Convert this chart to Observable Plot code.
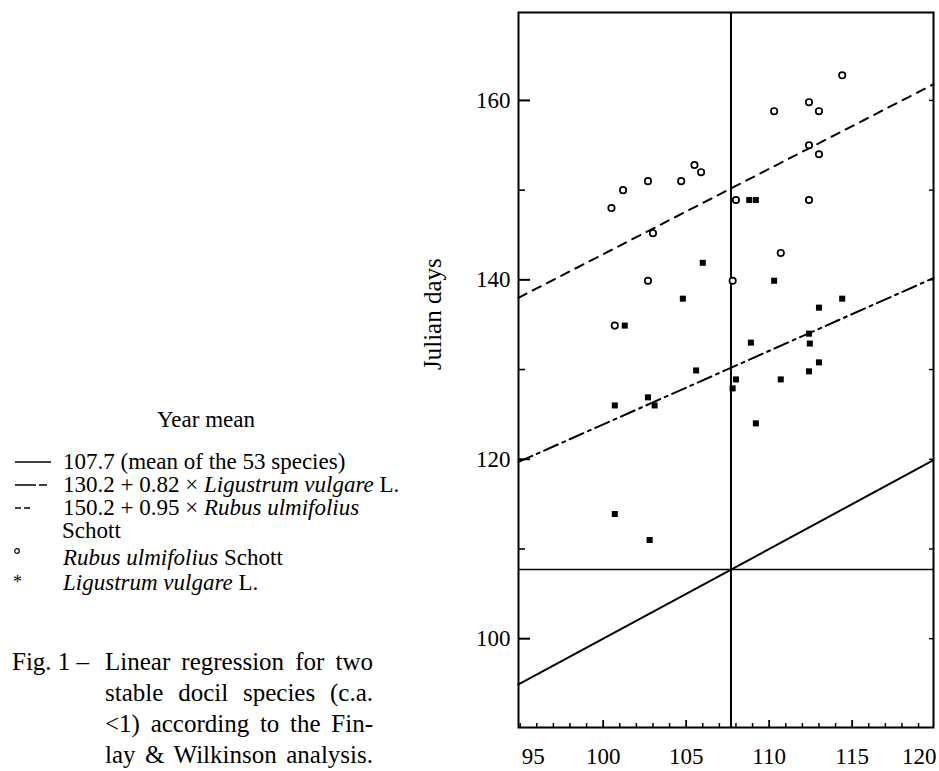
<!DOCTYPE html>
<html><head><meta charset="utf-8">
<script src="https://cdn.jsdelivr.net/npm/d3@7"></script>
<script src="https://cdn.jsdelivr.net/npm/@observablehq/plot@0.6"></script>
<style>
body{margin:0;background:#fff;}
#wrap{position:relative;width:939px;height:771px;overflow:hidden;font-family:"Liberation Serif","DejaVu Serif",serif;color:#000;}
#chart{position:absolute;left:400px;top:0;}
.t{position:absolute;white-space:nowrap;font-size:23px;line-height:20px;}
.s{position:absolute;}
.cap{position:absolute;font-size:25px;line-height:26px;}
.cl{width:268px;text-align:justify;text-align-last:justify;white-space:nowrap;}
</style></head>
<body><div id="wrap">
<div class="t" style="left:157px;top:410px;">Year mean</div>
<svg class="s" style="left:14px;top:457px" width="40" height="10"><line x1="1" y1="5" x2="37" y2="5" stroke="#000" stroke-width="1.6"/></svg>
<div class="t" style="left:63px;top:452px;">107.7 (mean of the 53 species)</div>
<svg class="s" style="left:14px;top:480px" width="40" height="10"><line x1="1" y1="5" x2="37" y2="5" stroke="#000" stroke-width="1.6" stroke-dasharray="21,3,8,20"/></svg>
<div class="t" style="left:63px;top:475px;">130.2 + 0.82 × <i>Ligustrum vulgare</i> L.</div>
<svg class="s" style="left:14px;top:503px" width="40" height="10"><line x1="1" y1="5" x2="16" y2="5" stroke="#000" stroke-width="1.6" stroke-dasharray="6,3"/></svg>
<div class="t" style="left:63px;top:498px;">150.2 + 0.95 × <i>Rubus ulmifolius</i></div>
<div class="t" style="left:62px;top:521px;">Schott</div>
<svg class="s" style="left:13px;top:547px" width="10" height="10"><circle cx="4" cy="4" r="2.3" fill="none" stroke="#000" stroke-width="1.2"/></svg>
<div class="t" style="left:63px;top:548px;"><i>Rubus ulmifolius</i> Schott</div>
<div class="t" style="left:13px;top:572px;font-size:18px;">*</div>
<div class="t" style="left:63px;top:573px;"><i>Ligustrum vulgare</i> L.</div>
<div class="cap" style="left:12px;top:649px;">Fig. 1 –</div>
<div class="cap" style="left:105px;top:649px;">
<div class="cl">Linear regression for two</div>
<div class="cl" style="margin-top:5px">stable docil species (c.a.</div>
<div class="cl" style="margin-top:5px">&lt;1) according to the Fin-</div>
<div class="cl" style="margin-top:5px">lay &amp; Wilkinson analysis.</div>
</div>
<div id="chart"></div>
</div>
<script>
// Rubus ulmifolius Schott (open circles)
const rubusX = [100.5, 101.2, 102.7, 104.7, 105.5, 105.9, 108.0, 112.4, 110.3, 112.4, 113.0, 114.4, 112.4, 113.0, 110.7, 103.0, 102.7, 100.7, 107.8];
const rubusY = [148.0, 150.0, 151.0, 151.0, 152.8, 152.0, 148.9, 148.9, 158.8, 159.8, 158.8, 162.8, 155.0, 154.0, 143.0, 145.2, 139.9, 134.9, 139.9];
// Ligustrum vulgare L. (filled squares)
const ligX = [106.0, 110.3, 104.8, 114.4, 113.0, 101.3, 108.9, 112.4, 112.45, 113.0, 112.4, 105.6, 108.0, 107.8, 110.7, 102.7, 103.1, 100.7, 109.2, 108.8, 109.2, 100.7, 102.8];
const ligY = [141.9, 139.9, 137.9, 137.9, 136.9, 134.9, 133.0, 134.0, 132.9, 130.8, 129.8, 129.9, 128.9, 127.9, 128.9, 126.9, 126.0, 126.0, 124.0, 148.9, 148.9, 113.9, 111.0];
// Lines: endpoints
const lineX = [94.9, 119.9];
const meanLineY = [94.9, 119.9];      // 107.7 (mean of the 53 species)
const ligLineY = [119.7, 140.2];      // 130.2 + 0.82 × Ligustrum
const rubLineY = [138.0, 161.8];      // 150.2 + 0.95 × Rubus
const yearMean = [107.7];
const yMajor = [100, 120, 140, 160];
const yMinor = [110, 130, 150];
const xLabels = [95, 100, 105, 110, 115, 120];
const xMajorTicks = [100, 105, 110, 115];
const xMinorTicks = [95, 96, 97, 98, 99, 101, 102, 103, 104, 106, 107, 108, 109, 111, 112, 113, 114, 116, 117, 118, 119];
const yTitle = "Julian days";

const xDom = [94.9, 119.9], yDom = [90.1, 169.8];
const rubus = rubusX.map((x, i) => ({x, y: rubusY[i]}));
const lig = ligX.map((x, i) => ({x, y: ligY[i]}));
const mk = ys => lineX.map((x, i) => ({x, y: ys[i]}));
// inward tick lengths, converted from pixels to data units
const pxX = (xDom[1] - xDom[0]) / 415, pxY = (yDom[1] - yDom[0]) / 715;

const chart = Plot.plot({
  width: 539, height: 771,
  marginLeft: 118, marginRight: 6, marginTop: 12, marginBottom: 44,
  style: {fontFamily: '"Liberation Serif", "DejaVu Serif", serif', fontSize: "23px", color: "#000", background: "transparent"},
  x: {domain: xDom},
  y: {domain: yDom},
  marks: [
    Plot.ruleX(yearMean, {stroke: "#000", strokeWidth: 2}),
    Plot.ruleY(yearMean, {stroke: "#000", strokeWidth: 1.5}),
    Plot.line(mk(meanLineY), {x: "x", y: "y", stroke: "#000", strokeWidth: 2}),
    Plot.line(mk(ligLineY), {x: "x", y: "y", stroke: "#000", strokeWidth: 2, strokeDasharray: "15,5,3,5"}),
    Plot.line(mk(rubLineY), {x: "x", y: "y", stroke: "#000", strokeWidth: 2, strokeDasharray: "9,7"}),
    Plot.dot(rubus, {x: "x", y: "y", r: 3.2, stroke: "#000", strokeWidth: 1.7, fill: "white"}),
    Plot.dot(lig, {x: "x", y: "y", symbol: "square", r: 3.4, fill: "#000"}),
    Plot.ruleY(yMajor, {x1: xDom[0], x2: xDom[0] + 12 * pxX, stroke: "#000", strokeWidth: 2}),
    Plot.ruleY(yMinor, {x1: xDom[0], x2: xDom[0] + 7 * pxX, stroke: "#000", strokeWidth: 1.6}),
    Plot.ruleY(yMajor.concat(yMinor), {x1: xDom[1] - 4 * pxX, x2: xDom[1], stroke: "#000", strokeWidth: 1.4}),
    Plot.ruleX(xMajorTicks, {y1: yDom[0], y2: yDom[0] + 7 * pxY, stroke: "#000", strokeWidth: 1.8}),
    Plot.ruleX(xMinorTicks, {y1: yDom[0], y2: yDom[0] + 4 * pxY, stroke: "#000", strokeWidth: 1.5}),
    Plot.axisY({ticks: yMajor, tickSize: 0, tickPadding: 8, label: null, fill: "#000"}),
    Plot.axisX({ticks: xLabels.slice(1, 5), tickSize: 0, tickPadding: 20, label: null, fill: "#000"}),
    Plot.axisX({ticks: xLabels.slice(0, 1), tickSize: 0, tickPadding: 20, label: null, dx: 13, fill: "#000"}),
    Plot.axisX({ticks: xLabels.slice(5), tickSize: 0, tickPadding: 20, label: null, dx: -16, fill: "#000"}),
    Plot.text([yTitle], {text: d => d, frameAnchor: "left", rotate: -90, dx: -86, fontSize: 25, fill: "#000"}),
    Plot.frame({stroke: "#000", strokeWidth: 2})
  ]
});
document.getElementById("chart").appendChild(chart);
</script>
</body></html>
